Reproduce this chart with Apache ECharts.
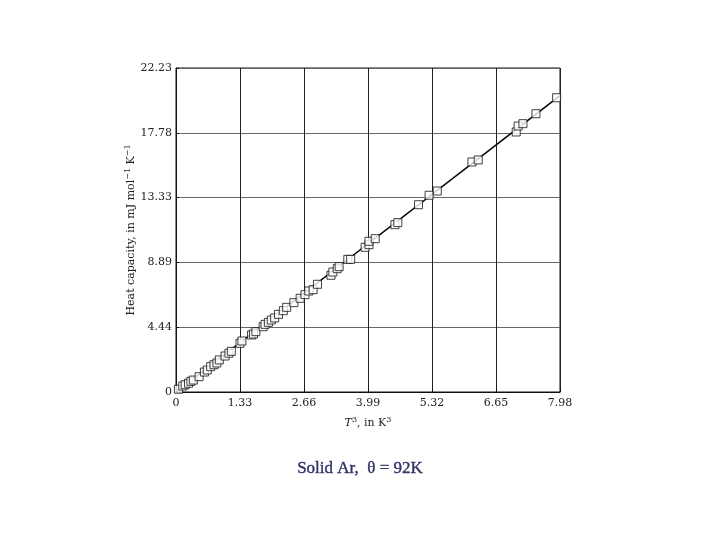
<!DOCTYPE html>
<html>
<head>
<meta charset="utf-8">
<script src="https://cdn.jsdelivr.net/npm/echarts@6/dist/echarts.min.js"></script>
<style>html,body{margin:0;padding:0;background:#fff}#c{width:720px;height:540px}</style>
</head>
<body>
<div id="c"></div>
<script>
// Data: T^3 (K^3) vs heat capacity (mJ mol^-1 K^-1)
const xValues = [0.05,0.14,0.19,0.26,0.31,0.36,0.48,0.59,0.65,0.72,0.79,0.85,0.90,1.02,1.10,1.15,1.33,1.37,1.57,1.61,1.66,1.81,1.85,1.92,1.98,2.05,2.13,2.23,2.30,2.45,2.58,2.68,2.76,2.85,2.94,3.22,3.26,3.35,3.39,3.57,3.63,3.93,4.01,4.01,4.14,4.55,4.61,5.04,5.26,5.43,6.15,6.28,7.07,7.11,7.21,7.48,7.91];
const yValues = [0.19,0.41,0.50,0.60,0.73,0.82,1.05,1.37,1.51,1.74,1.87,1.99,2.20,2.47,2.66,2.79,3.34,3.50,3.91,3.98,4.14,4.48,4.64,4.78,4.94,5.08,5.33,5.58,5.81,6.13,6.43,6.68,6.93,7.02,7.39,8.01,8.23,8.46,8.60,9.10,9.10,9.93,10.11,10.34,10.52,11.48,11.62,12.85,13.50,13.79,15.78,15.92,17.84,18.25,18.41,19.09,20.19];
const fitLine = [[0, 0], [7.98, 20.33]];
const xTickLabels = ['0','1.33','2.66','3.99','5.32','6.65','7.98'];
const yTickLabels = ['0','4.44','8.89','13.33','17.78','22.23'];

const points = xValues.map((x, i) => [x, yValues[i]]);
const serif = '"DejaVu Serif", "Liberation Serif", serif';

const chart = echarts.init(document.getElementById('c'));
chart.setOption({
  animation: false,
  backgroundColor: '#fff',
  grid: {left: 176, right: 160, top: 68, bottom: 148, show: true, borderColor: '#111', borderWidth: 1},
  xAxis: {
    type: 'value', min: 0, max: 7.98, interval: 1.33,
    axisLine: {show: true, lineStyle: {color: '#111'}},
    axisTick: {show: true, inside: true, length: 3, lineStyle: {color: '#111'}},
    splitLine: {show: true, lineStyle: {color: '#222', width: 1}},
    axisLabel: {color: '#222', fontFamily: serif, fontSize: 11, margin: 6,
      formatter: v => xTickLabels[Math.round(v / 1.33)]},
    name: '{i|T}{s|3}{n|, in K}{s|3}', nameLocation: 'middle', nameGap: 24,
    nameTextStyle: {rich: {
      i: {fontFamily: serif, fontStyle: 'italic', fontSize: 11, color: '#222'},
      n: {fontFamily: serif, fontSize: 11, color: '#222'},
      s: {fontFamily: serif, fontSize: 8, color: '#222', verticalAlign: 'top', padding: [0, 0, 6, 0]}
    }}
  },
  yAxis: {
    type: 'value', min: 0, max: 22.23, interval: 4.446,
    axisLine: {show: true, lineStyle: {color: '#111'}},
    axisTick: {show: true, inside: true, length: 3, lineStyle: {color: '#111'}},
    splitLine: {show: true, lineStyle: {color: '#666', width: 1}},
    axisLabel: {color: '#222', fontFamily: serif, fontSize: 11, margin: 4,
      formatter: v => yTickLabels[Math.round(v / 4.446)]},
    name: '{n|Heat capacity, in mJ mol}{s|−1}{n| K}{s|−1}', nameLocation: 'middle', nameGap: 38,
    nameMoveOverlap: false,
    nameRotate: 90,
    nameTextStyle: {rich: {
      n: {fontFamily: serif, fontSize: 11, color: '#222'},
      s: {fontFamily: serif, fontSize: 8, color: '#222', verticalAlign: 'top', padding: [0, 0, 6, 0]}
    }}
  },
  series: [
    {type: 'line', data: fitLine, symbol: 'none', lineStyle: {color: '#000', width: 1.5}, z: 2},
    {type: 'scatter', data: points, symbol: 'rect', symbolSize: 8,
      itemStyle: {color: '#fff', borderColor: '#111', borderWidth: 1}, z: 3}
  ],
  graphic: [{
    type: 'text', left: 'center', top: 460,
    style: {text: 'Solid Ar,  θ = 92K', fill: '#333366', stroke: '#333366', lineWidth: 0.4,
      font: '17px "Liberation Serif", "DejaVu Serif", serif'}
  }]
});
</script>
</body>
</html>
